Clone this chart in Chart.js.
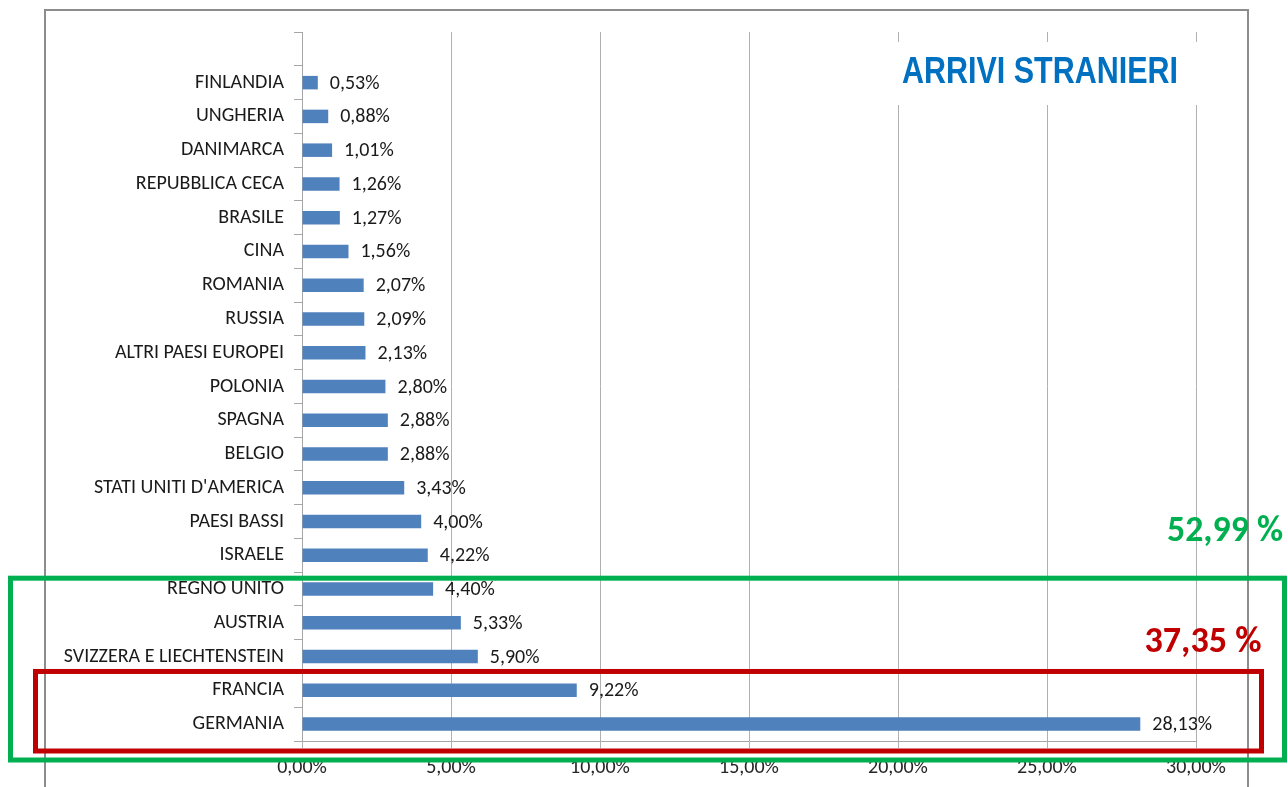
<!DOCTYPE html>
<html>
<head>
<meta charset="utf-8">
<script src="https://cdn.jsdelivr.net/npm/chart.js@4"></script>
<style>
  html, body { margin: 0; padding: 0; background: #fff; }
  #wrap { width: 1288px; height: 787px; }
</style>
</head>
<body>
<div id="wrap"><canvas id="arrivi" width="1288" height="787"></canvas></div>
<script>
// Data (top row of the chart is an empty slot, as in the original)
const countries = ["", "FINLANDIA", "UNGHERIA", "DANIMARCA", "REPUBBLICA CECA", "BRASILE", "CINA",
    "ROMANIA", "RUSSIA", "ALTRI PAESI EUROPEI", "POLONIA", "SPAGNA", "BELGIO",
    "STATI UNITI D'AMERICA", "PAESI BASSI", "ISRAELE", "REGNO UNITO", "AUSTRIA",
    "SVIZZERA E LIECHTENSTEIN", "FRANCIA", "GERMANIA"];
const shares = [null, 0.53, 0.88, 1.01, 1.26, 1.27, 1.56, 2.07, 2.09, 2.13, 2.80, 2.88, 2.88,
    3.43, 4.00, 4.22, 4.40, 5.33, 5.90, 9.22, 28.13];
const xTicks = [0, 5, 10, 15, 20, 25, 30];

const chartTitle = "ARRIVI STRANIERI";
// highlighted groups: first / last category and the total written beside them
const greenGroup = { from: "REGNO UNITO", to: "GERMANIA", total: "52,99 %" };
const redGroup = { from: "FRANCIA", to: "GERMANIA", total: "37,35 %" };

const fmt = v => v.toFixed(2).replace(".", ",") + "%";
const labelFont = '"Carlito", "Lato", "Liberation Sans", sans-serif';

// draw text stretched/squeezed to a given width
function fitText(ctx, text, cx, cy, width, font, color) {
    ctx.save();
    ctx.font = font;
    const w = ctx.measureText(text).width;
    ctx.translate(cx, cy);
    ctx.scale(width / w, 1);
    ctx.fillStyle = color;
    ctx.textAlign = "center";
    ctx.textBaseline = "middle";
    ctx.fillText(text, 0, 0);
    ctx.restore();
}

const framePlugin = {
    id: "frame",
    beforeDraw(chart) {
        const c = chart.ctx;
        c.save();
        c.fillStyle = "#fff";
        c.fillRect(0, 0, chart.width, chart.height);
        c.strokeStyle = "#8c8c8c";
        c.lineWidth = 2;
        c.strokeRect(45, 10, 1203, 800);
        c.restore();
    }
};

const valueLabels = {
    id: "valueLabels",
    afterDatasetsDraw(chart) {
        const c = chart.ctx;
        const meta = chart.getDatasetMeta(0);
        c.save();
        c.font = "20px " + labelFont;
        c.fillStyle = "#1a1a1a";
        c.textBaseline = "middle";
        meta.data.forEach((bar, i) => {
            if (shares[i] == null) return;
            c.fillText(fmt(shares[i]), bar.x + 12, bar.y + 1);
        });
        c.restore();
    }
};

const extras = {
    id: "extras",
    afterDraw(chart) {
        const c = chart.ctx;
        const y = chart.scales.y;
        const half = (y.getPixelForValue(1) - y.getPixelForValue(0)) / 2;
        const top = name => y.getPixelForValue(countries.indexOf(name)) - half;
        const bottom = name => y.getPixelForValue(countries.indexOf(name)) + half;

        // title on a white box over the grid
        c.save();
        c.fillStyle = "#fff";
        c.fillRect(893, 42, 308, 63);
        c.restore();
        fitText(c, chartTitle, 1040, 73, 276, 'bold 37px "Liberation Sans", sans-serif', "#0070c0");

        c.save();
        c.lineWidth = 5;
        // green box
        c.strokeStyle = "#00b050";
        const gTop = top(greenGroup.from) + 6, gBot = bottom(greenGroup.to) + 19;
        c.strokeRect(10.5, gTop, 1274, gBot - gTop);
        // red box
        c.strokeStyle = "#c00000";
        const rTop = top(redGroup.from) - 2, rBot = bottom(redGroup.to) + 10;
        c.strokeRect(35.5, rTop, 1226, rBot - rTop);
        c.restore();

        fitText(c, greenGroup.total, 1225, gTop - 46, 116, 'bold 37px ' + labelFont, "#00b050");
        fitText(c, redGroup.total, 1203, rTop - 29, 117, 'bold 37px ' + labelFont, "#c00000");
    }
};

const ctx = document.getElementById("arrivi").getContext("2d");
new Chart(ctx, {
    type: "bar",
    data: {
        labels: countries,
        datasets: [{
            data: shares,
            backgroundColor: "#4f81bd",
            borderWidth: 0,
            categoryPercentage: 1,
            barPercentage: 0.4
        }]
    },
    options: {
        indexAxis: "y",
        responsive: false,
        animation: false,
        layout: { padding: { left: 0, right: 92, top: 32, bottom: 0 } },
        plugins: {
            legend: { display: false },
            tooltip: { enabled: false }
        },
        scales: {
            x: {
                min: 0,
                max: 30,
                afterBuildTicks: s => { s.ticks = xTicks.map(v => ({ value: v })); },
                afterFit: s => { s.height = 46; },
                grid: { color: "#b0b0b0", lineWidth: 1, tickLength: 7 },
                border: { color: "#a6a6a6" },
                ticks: {
                    padding: 8,
                    color: "#262626",
                    font: { family: labelFont, size: 20 },
                    callback: v => fmt(v)
                }
            },
            y: {
                afterFit: s => { s.width = 302; },
                grid: { drawOnChartArea: false, color: "#a6a6a6", tickLength: 8, offset: true },
                border: { color: "#a6a6a6" },
                ticks: {
                    padding: 10,
                    autoSkip: false,
                    color: "#1a1a1a",
                    font: { family: labelFont, size: 20 }
                }
            }
        }
    },
    plugins: [framePlugin, valueLabels, extras]
});
</script>
</body>
</html>
